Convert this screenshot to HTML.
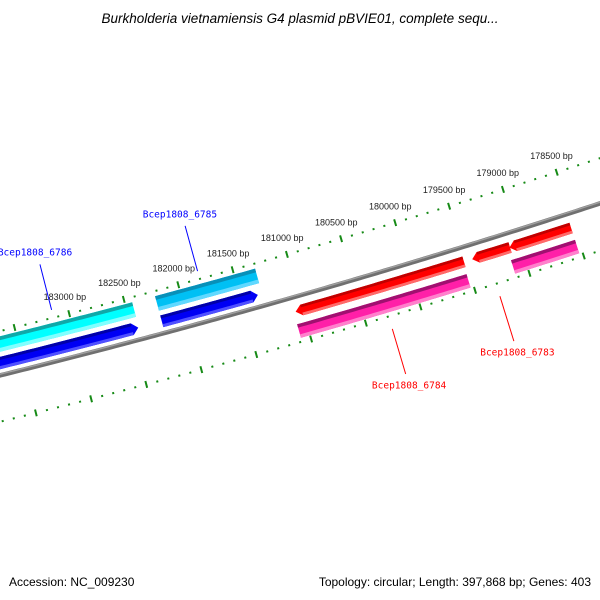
<!DOCTYPE html>
<html><head><meta charset="utf-8">
<style>
html,body{margin:0;padding:0;background:#fff;}
svg{display:block;}
</style></head>
<body>
<svg id="map" width="600" height="600" viewBox="0 0 600 600" xmlns="http://www.w3.org/2000/svg">
<rect width="600" height="600" fill="#fff"/>
<text x="300" y="23" text-anchor="middle" font-family="Liberation Sans, sans-serif" font-style="italic" font-size="13.5" fill="#000">Burkholderia vietnamiensis G4 plasmid pBVIE01, complete sequ...</text>
<g id="rings"></g>
<text x="9" y="586" font-family="Liberation Sans, sans-serif" font-size="12" fill="#000">Accession: NC_009230</text>
<text x="591" y="586" text-anchor="end" font-family="Liberation Sans, sans-serif" font-size="12" fill="#000">Topology: circular; Length: 397,868 bp; Genes: 403</text>
</svg>
<script>
// ---- data ----
const tickLabels=[183000,182500,182000,181500,181000,180500,180000,179500,179000,178500];
const cyanStarts=[183850,182225];
const cyanEnds=[182435,181306];
const blueStarts=[183850,182225];
const blueEnds=[182440,181345];
const redStarts=[181065,179443,179100];
const redEnds=[179519,179094,178530];
const pinkStarts=[181083,179120];
const pinkEnds=[179530,178530];
const geneNames=["Bcep1808_6786","Bcep1808_6785","Bcep1808_6784","Bcep1808_6783"];
const geneLabelBp=[183143,181803,180292,179307];
const geneLabelSide=["in","in","out","out"];

// ---- geometry ----
const NS="http://www.w3.org/2000/svg";
const C={x:-2026,y:-7824},K=0.1128/8402,PHI0=1.3188,BP0=183000;
const R0=8446,RT=8403,RL=8491;
const g=document.getElementById('rings');
function pt(bp,r){const a=PHI0+(bp-BP0)*K;return [C.x+r*Math.cos(a),C.y+r*Math.sin(a)];}
function arcPts(b1,b2,r){const n=Math.max(2,Math.ceil(Math.abs(b2-b1)/40));const p=[];for(let i=0;i<=n;i++){p.push(pt(b1+(b2-b1)*i/n,r));}return p;}
function mk(tag,attrs){const e=document.createElementNS(NS,tag);for(const k in attrs)e.setAttribute(k,attrs[k]);g.appendChild(e);return e;}
function ptsStr(p){return p.map(q=>q[0].toFixed(2)+','+q[1].toFixed(2)).join(' ');}
// band from high bp (s) to low bp (e); arrow: 'low','high' or none
function band(s,e,r1,r2,fill,arrow,name){
  const AH=55;let a=s,b=e;
  if(arrow==='low')b=e+AH; if(arrow==='high')a=s-AH;
  let p=arcPts(a,b,r1);
  if(arrow==='low')p.push(pt(e,(r1+r2)/2));
  p=p.concat(arcPts(b,a,r2));
  if(arrow==='high')p.push(pt(s,(r1+r2)/2));
  const el=mk('polygon',{points:ptsStr(p),fill:fill});
  
  
  return [a,b];
}
function strip(a,b,r1,r2,fill){const p=arcPts(a,b,r1).concat(arcPts(b,a,r2));const el=mk('polygon',{points:ptsStr(p),fill:fill});
  
  }
function feature(s,e,r1,r2,cTop,cMid,cBot,arrow,name){
  const [a,b]=band(s,e,r1,r2,cMid,arrow,name);
  const h=(r2-r1)*0.25;
  strip(a,b,r1,r1+h,cTop);strip(a,b,r2-h,r2,cBot);
}

// ticks
function tickRing(r,labels,nm){
  for(let bp=177500;bp<=184500;bp+=100){
    const major=bp%500===0;
    const L=major?3.5:1;
    const p1=pt(bp,r-L),p2=pt(bp,r+L);
    const el=mk('line',{x1:p1[0],y1:p1[1],x2:p2[0],y2:p2[1],stroke:'#168a16','stroke-width':major?2:2});
    
    
  }
  if(labels){
    tickLabels.forEach(v=>{const q=pt(v,r-17);
      const t=mk('text',{x:q[0].toFixed(1),y:(q[1]+3).toFixed(1),'text-anchor':'middle','font-family':'Liberation Sans, sans-serif','font-size':'9',fill:'#222'});
      t.textContent=v+' bp';
      
      });
  }
}
tickRing(RT,true,'upper');
tickRing(RL,false,'lower');

// backbone
(function(){const p=arcPts(186000,176000,R0);
 const e1=mk('polyline',{points:ptsStr(p),fill:'none',stroke:'#707070','stroke-width':4.5});
 
 
 const p2=arcPts(186000,176000,R0-1.2);
 const e2=mk('polyline',{points:ptsStr(p2),fill:'none',stroke:'#a0a0a0','stroke-width':1.4});
 
 })();

// features
const cyanCols=[['#10a8a8','#00ffff','#80ffff'],['#0890b8','#00c0f4','#60d8ff']];
cyanStarts.forEach((s,i)=>feature(s,cyanEnds[i],8408,8423,cyanCols[i][0],cyanCols[i][1],cyanCols[i][2],null,'cog-feature-'+i));
blueStarts.forEach((s,i)=>feature(s,blueEnds[i],8428,8440,'#0000a8','#0000f4','#5050ff','low','forward-cds-'+i));
redStarts.forEach((s,i)=>feature(s,redEnds[i],8455,8466,'#c00000','#ff0000','#ff6a6a','high','reverse-cds-'+i));
pinkStarts.forEach((s,i)=>feature(s,pinkEnds[i],8473,8487,'#a01070','#ff20a8','#ff80cc',null,'reverse-feature-'+i));

// gene labels
geneNames.forEach((n,i)=>{
  const bp=geneLabelBp[i],inn=geneLabelSide[i]==='in';
  const col=inn?'#0000ff':'#ff0000';
  const a=pt(bp,inn?8395:8504),b=pt(bp,inn?8348:8551),c=pt(bp,inn?8336:8563);
  const l=mk('line',{x1:a[0],y1:a[1],x2:b[0],y2:b[1],stroke:col,'stroke-width':1});
  
  
  const t=mk('text',{x:(c[0]+(inn?-2:0)).toFixed(1),y:(c[1]+3).toFixed(1),'text-anchor':'middle','font-family':'DejaVu Sans Mono, monospace','font-size':'9.5',fill:col});
  t.textContent=n;
  
  
});
</script>
</body></html>
